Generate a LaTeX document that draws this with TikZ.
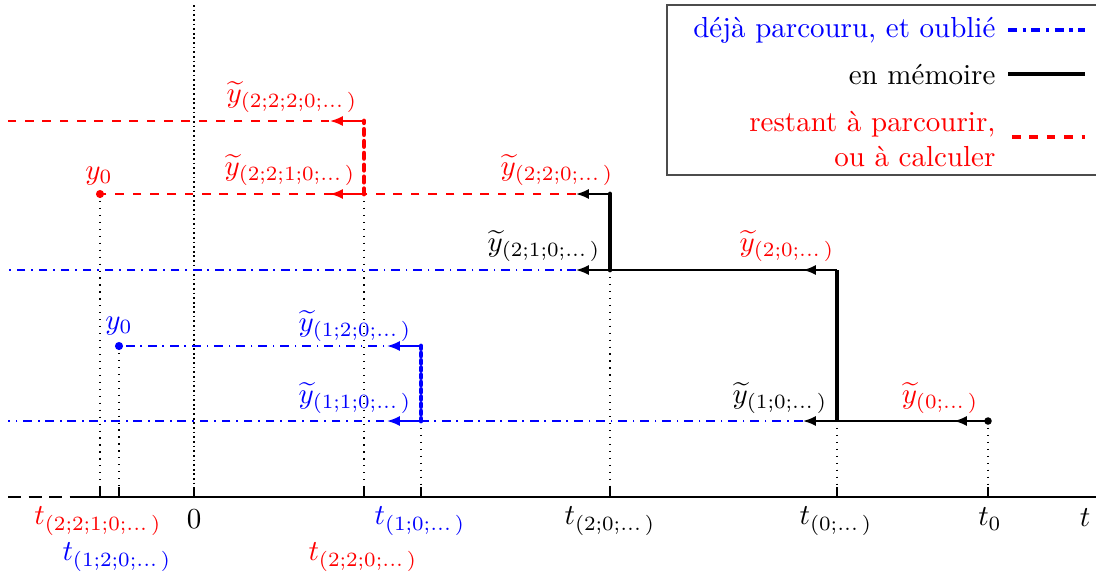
\documentclass[tikz,border=0pt]{standalone}
\usepackage{amsmath}
\usetikzlibrary{arrows.meta}
\tikzset{
  tip/.style={-{Latex[length=4.4pt,width=3.4pt]}},
  redl/.style={red, semithick, dashed},
  bluel/.style={blue, semithick, dash dot},
  blkl/.style={black, semithick},
  guide/.style={black, thin, dotted},
  lab/.style={inner sep=0pt},
  vthick/.style={line width=1.7pt},
}
\begin{document}
\begin{tikzpicture}[x=0.345pt,y=-0.345pt]
\useasboundingbox (0,0) rectangle (1096,578);
% key points
\coordinate (P0) at (988,421);
\coordinate (P1) at (837,421);
\coordinate (P1u) at (837,270);
\coordinate (P2) at (610,270);
\coordinate (P2u) at (610,194);
\coordinate (P3) at (364,194);
\coordinate (P3u) at (364,121);
\coordinate (Q1) at (421,421);
\coordinate (Q1u) at (421,346);
\coordinate (Qy0) at (119,346);
\coordinate (Ry0) at (100,194);
\coordinate (T1) at (803,421);
\coordinate (T2) at (576,270);
\coordinate (T2u) at (576,194);
\coordinate (L1) at (8,121);
\coordinate (L2) at (8,270);
\coordinate (L3) at (8,421);
% axis points
\coordinate (Ar) at (100,497);
\coordinate (Aq) at (119,497);
\coordinate (Az) at (194,497);
\coordinate (A3) at (364,497);
\coordinate (Aq1) at (421,497);
\coordinate (A2) at (610,497);
\coordinate (A1) at (837,497);
\coordinate (A0) at (988,497);
\coordinate (Aleft) at (75,497);
\coordinate (Afar) at (8,497);
\coordinate (Aend) at (1112,497);
\coordinate (Ytop) at (194,5);

% guides
\draw[guide] (Ry0) -- (Ar);
\draw[guide] (Qy0) -- (Aq);
\draw[guide] (P3) -- (A3);
\draw[guide] (Q1) -- (Aq1);
\draw[guide] (P2) -- (A2);
\draw[guide] (P1) -- (A1);
\draw[guide] (P0) -- (A0);
\draw[black, semithick, densely dotted] (Ytop) -- (Az);

% axis
\draw[thick, -{Latex[length=4pt,width=3pt]}] (Aleft) -- (Aend);
\draw[thick, dash pattern=on 4.5pt off 2.6pt] (Afar) -- (Aleft);
\foreach \x in {100,119,194,364,421,610,837,988}
  \draw[semithick] (\x,487) -- (\x,497);

% red (remaining)
\draw[redl] (P3u) -- (L1);
\draw[red, semithick, tip] (P3u) -- ++(-34,0);
\draw[redl] (T2u) -- (Ry0);
\draw[red, semithick, tip] (P3) -- ++(-34,0);
\draw[blkl, tip] (P2u) -- ++(-34,0);
\draw[red, vthick, dash pattern=on 1.8pt off 2.3pt, line cap=round] (P3) -- (P3u);

% black (memory)
\draw[blkl] (P0) -- (P1);
\draw[blkl, tip] (P0) -- ++(-34,0);
\draw[blkl] (P1u) -- (P2);
\draw[blkl, tip] (P1u) -- ++(-34,0);
\draw[blkl, tip] (P2) -- ++(-34,0);
\draw[blkl, tip] (P1) -- ++(-34,0);
\draw[black, vthick, line cap=round] (P2) -- (P2u);
\draw[black, vthick] (P1) -- (P1u);

% blue (forgotten)
\draw[bluel] (T2) -- (L2);
\draw[bluel] (T1) -- (L3);
\draw[blue, semithick, tip] (Q1) -- ++(-34,0);
\draw[bluel] (Q1u) -- (Qy0);
\draw[blue, semithick, tip] (Q1u) -- ++(-34,0);
\draw[blue, vthick, dash pattern=on 0.9pt off 1.6pt, line cap=round] (Q1) -- (Q1u);

% dots
\fill[red] (Ry0) circle (1.4pt);
\fill[blue] (Qy0) circle (1.4pt);
\fill[black] (P0) circle (1.3pt);

% labels
\node[lab, red] (y2220) at (292,97) {$\widetilde{y}_{(2;2;2;0;\dots\,)}$};
\node[lab, red] (y2210) at (290,170) {$\widetilde{y}_{(2;2;1;0;\dots\,)}$};
\node[lab, red] (y220) at (557,170) {$\widetilde{y}_{(2;2;0;\dots\,)}$};
\node[lab] (y210) at (544,246) {$\widetilde{y}_{(2;1;0;\dots\,)}$};
\node[lab, red] (y20) at (787,246) {$\widetilde{y}_{(2;0;\dots\,)}$};
\node[lab, blue] (y120) at (355,326) {$\widetilde{y}_{(1;2;0;\dots\,)}$};
\node[lab, blue] (y110) at (355,398) {$\widetilde{y}_{(1;1;0;\dots\,)}$};
\node[lab] (y10) at (780,398) {$\widetilde{y}_{(1;0;\dots\,)}$};
\node[lab, red] (y0r) at (940,398) {$\widetilde{y}_{(0;\dots\,)}$};
\node[lab, red] (ry0) at (99,176) {$y_0$};
\node[lab, blue] (by0) at (119,326) {$y_0$};

% axis labels
\node[lab, red] (t2210) at (98,521) {$t_{(2;2;1;0;\dots\,)}$};
\node[lab, blue] (t120) at (117,557) {$t_{(1;2;0;\dots\,)}$};
\node[lab] (zero) at (194,519) {$0$};
\node[lab, blue] (t10) at (420,521) {$t_{(1;0;\dots\,)}$};
\node[lab, red] (t220) at (363,557) {$t_{(2;2;0;\dots\,)}$};
\node[lab] (t20) at (610,521) {$t_{(2;0;\dots\,)}$};
\node[lab] (t0x) at (836,521) {$t_{(0;\dots\,)}$};
\node[lab] (t0) at (990,519) {$t_0$};
\node[lab] (tt) at (1085,518) {$t$};

% legend
\draw[black!70] (667,5) rectangle (1110,175);
\node[lab, blue, anchor=east] (lg1) at (996,30) {déjà parcouru, et oublié};
\node[lab, anchor=east] (lg2) at (996,75) {en mémoire};
\node[lab, red, anchor=east, align=right] (lg3) at (996,139) {restant à parcourir,\\ou à calculer};
\draw[blue, line width=1.1pt, dash dot] (1008,30) -- (1085,30);
\draw[black, line width=1.1pt] (1008,74) -- (1085,74);
\draw[red, line width=1.1pt, dashed] (1012,137) -- (1085,137);
\end{tikzpicture}
\end{document}
